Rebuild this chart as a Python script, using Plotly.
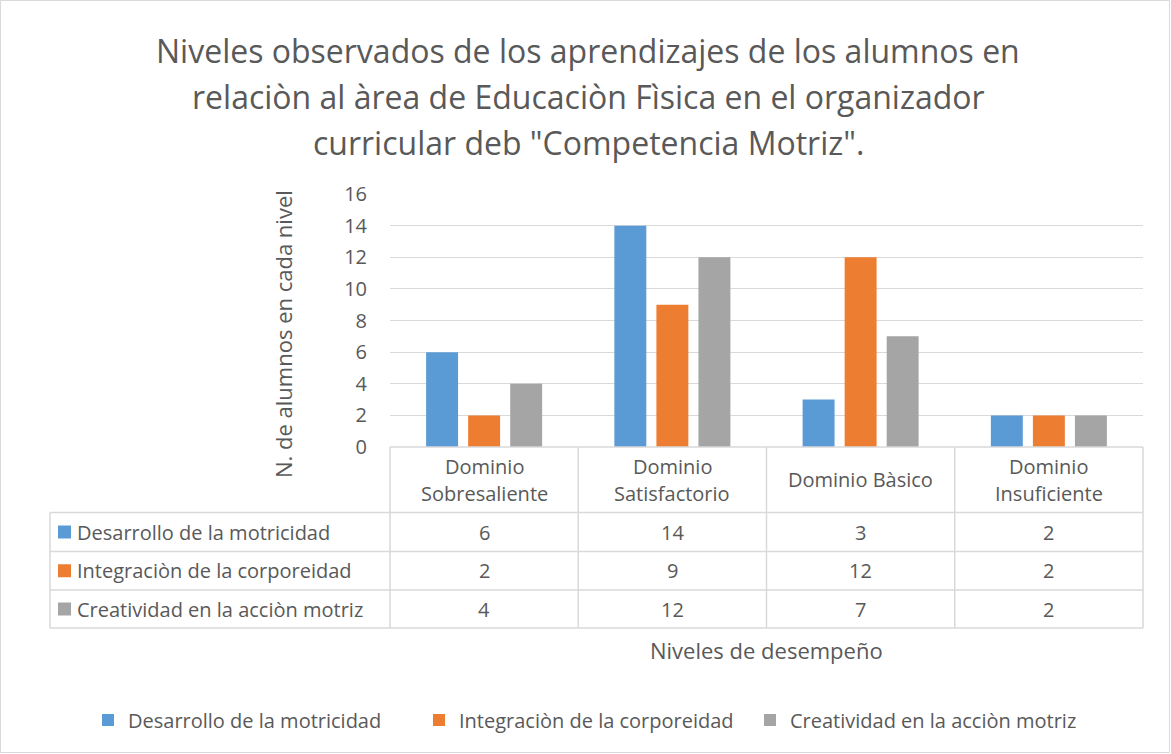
import plotly.graph_objects as go

# ---- data ----
categories = ["Dominio Sobresaliente", "Dominio Satisfactorio", "Dominio Bàsico", "Dominio Insuficiente"]
series_names = ["Desarrollo de la motricidad", "Integraciòn de la corporeidad", "Creatividad en la acciòn motriz"]
desarrollo = [6, 14, 3, 2]
integracion = [2, 9, 12, 2]
creatividad = [4, 12, 7, 2]
series_values = [desarrollo, integracion, creatividad]
colors = ["#5B9BD5", "#ED7D31", "#A5A5A5"]
title_lines = [
    "Niveles observados de los aprendizajes de los alumnos en",
    "relaciòn al àrea de Educaciòn Fìsica en el organizador",
    'curricular deb "Competencia Motriz".',
]
y_title = "N. de alumnos en cada nivel"
x_title = "Niveles de desempeño"
y_ticks = list(range(0, 17, 2))

W, H = 1171, 754
PL, PR, PT, PB = 390, 1143, 194, 447  # plot area in pixels
FONT = "Open Sans"
TXT = "#595959"
GRID = "#D9D9D9"
TBL = 20


def X(px):
    return (px - PL) / (PR - PL)


def Y(py):
    return (PB - py) / (PB - PT)


fig = go.Figure()
for name, vals, col in zip(series_names, series_values, colors):
    fig.add_trace(go.Bar(x=categories, y=vals, name=name, marker_color=col,
                         marker_line_width=0))

shapes = []
annotations = []

# title
for i, line in enumerate(title_lines):
    annotations.append(dict(text=line, x=X(588), y=Y(50 + 46 * i), xref="paper", yref="paper",
                            xanchor="center", yanchor="middle", showarrow=False,
                            font=dict(family=FONT, size=32, color=TXT)))

# y axis title
annotations.append(dict(text=y_title, x=X(283), y=Y(334), xref="paper", yref="paper",
                        textangle=-90, xanchor="center", yanchor="middle", showarrow=False,
                        font=dict(family=FONT, size=22, color=TXT)))

# data table
col_w = (PR - PL) / len(categories)
col_edges = [PL + i * col_w for i in range(len(categories) + 1)]
row_lines = [447, 512.5, 551.5, 590, 628]
line_style = dict(color=GRID, width=1.5)
for i, xe in enumerate(col_edges):
    shapes.append(dict(type="line", xref="paper", yref="paper", x0=X(xe), x1=X(xe),
                       y0=Y(447), y1=Y(628), line=line_style))
shapes.append(dict(type="line", xref="paper", yref="paper", x0=X(50), x1=X(50),
                   y0=Y(512.5), y1=Y(628), line=line_style))
shapes.append(dict(type="line", xref="paper", yref="paper", x0=X(PL), x1=X(PR),
                   y0=Y(447), y1=Y(447), line=line_style))
for ry in row_lines[1:]:
    shapes.append(dict(type="line", xref="paper", yref="paper", x0=X(50), x1=X(PR),
                       y0=Y(ry), y1=Y(ry), line=line_style))

# header texts
for i, cat in enumerate(categories):
    cx = (col_edges[i] + col_edges[i + 1]) / 2
    lines = [cat] if len(cat) <= 15 else cat.split(" ", 1)
    ys = [479] if len(lines) == 1 else [466, 493]
    for ln, yy in zip(lines, ys):
        annotations.append(dict(text=ln, x=X(cx), y=Y(yy), xref="paper", yref="paper",
                                xanchor="center", yanchor="middle", showarrow=False,
                                font=dict(family=FONT, size=TBL, color=TXT)))

# body rows
for r, (name, vals, col) in enumerate(zip(series_names, series_values, colors)):
    cy = (row_lines[r + 1] + row_lines[r + 2]) / 2
    shapes.append(dict(type="rect", xref="paper", yref="paper", x0=X(58), x1=X(71),
                       y0=Y(cy - 6.5), y1=Y(cy + 6.5), fillcolor=col, line=dict(width=0)))
    annotations.append(dict(text=name, x=X(75), y=Y(cy), xref="paper", yref="paper",
                            xanchor="left", yanchor="middle", showarrow=False,
                            font=dict(family=FONT, size=TBL, color=TXT)))
    for i, v in enumerate(vals):
        cx = (col_edges[i] + col_edges[i + 1]) / 2
        annotations.append(dict(text=str(v), x=X(cx), y=Y(cy), xref="paper", yref="paper",
                                xanchor="center", yanchor="middle", showarrow=False,
                                font=dict(family=FONT, size=TBL, color=TXT)))

# x axis title
annotations.append(dict(text=x_title, x=X(766), y=Y(650), xref="paper", yref="paper",
                        xanchor="center", yanchor="middle", showarrow=False,
                        font=dict(family=FONT, size=22, color=TXT)))

# outer border
shapes.append(dict(type="rect", xref="paper", yref="paper", x0=X(0.5), x1=X(W - 1.5),
                   y0=Y(0.5), y1=Y(H - 1.5), line=dict(color=GRID, width=1)))

fig.update_layout(
    width=W, height=H,
    margin=dict(l=PL, r=W - PR, t=PT, b=H - PB, pad=0, autoexpand=False),
    paper_bgcolor="white", plot_bgcolor="white",
    barmode="group", bargap=0.33, bargroupgap=0.24,
    font=dict(family=FONT, color=TXT),
    xaxis=dict(type="category", range=[-0.5, 3.5], showticklabels=False, showgrid=False,
               zeroline=False, showline=False, ticks="", automargin=False),
    yaxis=dict(range=[0, 16], tickvals=y_ticks, showgrid=True, gridcolor=GRID, gridwidth=1,
               zeroline=False, showline=False, ticks="", ticklabelstandoff=22, automargin=False,
               tickfont=dict(family=FONT, size=20, color=TXT)),
    showlegend=True,
    legend=dict(orientation="h", x=X(88), xref="paper", xanchor="left",
                y=Y(720), yref="paper", yanchor="middle",
                font=dict(family=FONT, size=TBL, color=TXT),
                itemwidth=30, entrywidth=286, entrywidthmode="pixels",
                traceorder="normal", bgcolor="rgba(0,0,0,0)"),
    shapes=shapes,
    annotations=annotations,
)

fig.write_html("out.html", config={"displayModeBar": False},
               post_script="document.body.style.margin='0';")
